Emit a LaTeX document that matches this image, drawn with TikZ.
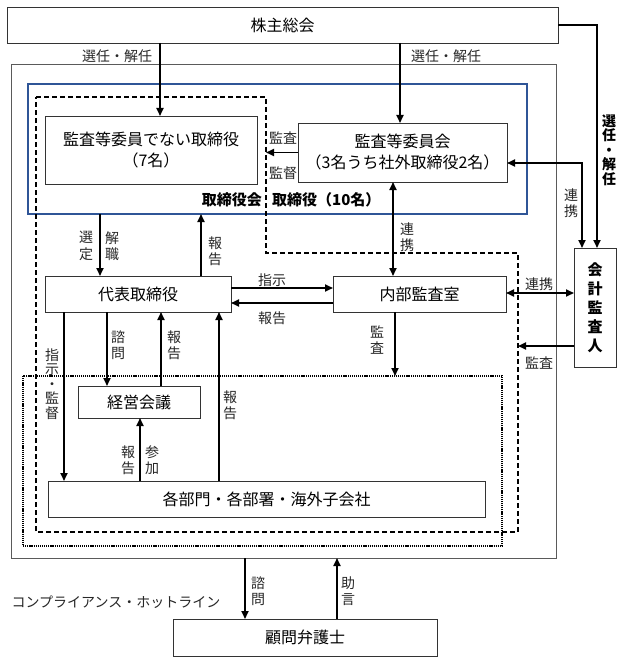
\documentclass[tikz,border=0pt]{standalone}
\usepackage{fontspec}
\setmainfont{Noto Sans CJK JP}
\usetikzlibrary{arrows.meta,calc}
\definecolor{boardblue}{RGB}{47,85,151}
\definecolor{framegray}{RGB}{90,90,90}
\begin{document}
\begin{tikzpicture}[x=1pt,y=-1pt,
  box/.style={draw=black!80,line width=0.8pt,inner sep=0pt,outer sep=0pt,align=center,font=\fontsize{16}{21}\selectfont},
  conn/.style={line width=1.8pt,-{Triangle[length=8pt,width=7pt]}},
  conn2/.style={line width=1.8pt,{Triangle[length=8pt,width=7pt]}-{Triangle[length=8pt,width=7pt]}},
  lbl/.style={inner sep=0pt,align=center,text=black!85,font=\fontsize{14}{16.5}\selectfont},
  glbl/.style={inner sep=0pt,align=center,font=\bfseries\fontsize{15}{19}\selectfont},
]
\useasboundingbox (0,0) rectangle (623,663);
% frames
\node[draw=framegray,line width=0.9pt,inner sep=0pt,outer sep=0pt,minimum width=545pt,minimum height=494pt] (outer) at (283.5,311) {};
\node[draw=boardblue,line width=1.3pt,inner sep=0pt,outer sep=0pt,minimum width=499pt,minimum height=130pt] (board) at (277.5,149) {};
\draw[line width=1.2pt,dash pattern=on 5pt off 3pt] (36,97) -- (266,97) -- (266,253) -- (518,253) -- (518,532) -- (36,532) -- cycle;
\draw[line width=1.2pt,dash pattern=on 1.2pt off 0.9pt] (23,376) rectangle (502,546);
% boxes
\node[box,minimum width=551pt,minimum height=36pt] (kabu) at (282.5,25) {株主総会};
\node[box,minimum width=212pt,minimum height=68pt] (notaudit) at (151,150) {監査等委員でない取締役\\（7名）};
\node[box,minimum width=209pt,minimum height=59pt] (auditc) at (402.5,152.5) {監査等委員会\\（3名うち社外取締役2名）};
\node[box,minimum width=186pt,minimum height=36pt] (ceo) at (138,294) {代表取締役};
\node[box,minimum width=173pt,minimum height=36pt] (ia) at (419.5,294) {内部監査室};
\node[box,minimum width=122pt,minimum height=32pt] (keiei) at (139,402) {経営会議};
\node[box,minimum width=437pt,minimum height=36pt] (depts) at (266.5,499) {各部門・各部署・海外子会社};
\node[box,minimum width=42pt,minimum height=119pt,font=\bfseries\fontsize{15}{19}\selectfont] (auditor) at (595,307.5) {会\\計\\監\\査\\人};
\node[box,minimum width=264pt,minimum height=37pt] (komon) at (305,637.5) {顧問弁護士};
% helper coordinates
\coordinate (x64) at (64,0);
\coordinate (x100) at (100,0);
\coordinate (x107) at (107,0);
\coordinate (x140) at (140,0);
\coordinate (x160) at (160,0);
\coordinate (x161) at (161,0);
\coordinate (x201) at (201,0);
\coordinate (x219) at (219,0);
\coordinate (x245) at (245,0);
\coordinate (x337) at (337,0);
\coordinate (x393) at (393,0);
\coordinate (x395) at (395,0);
\coordinate (x400) at (400,0);
\coordinate (x582) at (582,0);
\coordinate (x597) at (597,0);
\coordinate (xdash) at (266,0);
\coordinate (xdash2) at (518,0);
\coordinate (y163) at (0,163);
\coordinate (y288) at (0,288);
\coordinate (y293) at (0,293);
\coordinate (y303) at (0,303);
\coordinate (y346) at (0,346);
\coordinate (dottop) at (395,376);
% connectors
\draw[conn] (kabu.south -| x160) -- (notaudit.north -| x160);
\draw[conn] (kabu.south -| x400) -- (auditc.north -| x400);
\draw[conn] (kabu.east) -| (auditor.north -| x597);
\draw[conn] (auditc.west) -- (auditc.west -| xdash);
\draw[conn] (board.south -| x100) -- (ceo.north -| x100);
\draw[conn] (ceo.north -| x201) -- (board.south -| x201);
\draw[conn2] (auditc.south -| x393) -- (ia.north -| x393);
\draw[conn2] (auditc.east |- y163) -| (auditor.north -| x582);
\draw[conn] (ceo.east |- y288) -- (ia.west |- y288);
\draw[conn] (ia.west |- y303) -- (ceo.east |- y303);
\draw[conn2] (ia.east |- y293) -- (auditor.west |- y293);
\draw[conn] (auditor.west |- y346) -- (xdash2 |- y346);
\draw[conn] (ia.south -| x395) -- (dottop);
\draw[conn] (ceo.south -| x64) -- (depts.north -| x64);
\draw[conn] (ceo.south -| x107) -- (keiei.north -| x107);
\draw[conn] (keiei.north -| x161) -- (ceo.south -| x161);
\draw[conn] (depts.north -| x219) -- (ceo.south -| x219);
\draw[conn] (depts.north -| x140) -- (keiei.south -| x140);
\draw[conn] (outer.south -| x245) -- (komon.north -| x245);
\draw[conn] (komon.north -| x337) -- (outer.south -| x337);
% labels
\node[lbl] at (117,56) {選任・解任};
\node[lbl] at (446,56) {選任・解任};
\node[glbl,font=\bfseries\fontsize{14}{14.5}\selectfont] at (609,150) {選\\任\\・\\解\\任};
\node[lbl] at (283,138) {監査};
\node[lbl] at (283,173) {監督};
\node[glbl,anchor=east] at (262,200) {取締役会};
\node[glbl,anchor=west] at (272,200) {取締役（10名）};
\node[lbl] at (86,246) {選\\定};
\node[lbl] at (112,246) {解\\職};
\node[lbl] at (215,251) {報\\告};
\node[lbl] at (407,237) {連\\携};
\node[lbl] at (571,203) {連\\携};
\node[lbl] at (272,280) {指示};
\node[lbl] at (272,318) {報告};
\node[lbl] at (539,284) {連携};
\node[lbl] at (539,363) {監査};
\node[lbl] at (377,340) {監\\査};
\node[lbl,font=\fontsize{14}{14.5}\selectfont] at (52,384) {指\\示\\・\\監\\督};
\node[lbl] at (118,345) {諮\\問};
\node[lbl] at (174,345) {報\\告};
\node[lbl] at (230,405) {報\\告};
\node[lbl] at (128,460) {報\\告};
\node[lbl] at (152,460) {参\\加};
\node[lbl] at (258,591) {諮\\問};
\node[lbl] at (348,591) {助\\言};
\node[lbl] at (116,602) {コンプライアンス・ホットライン};
\end{tikzpicture}
\end{document}
